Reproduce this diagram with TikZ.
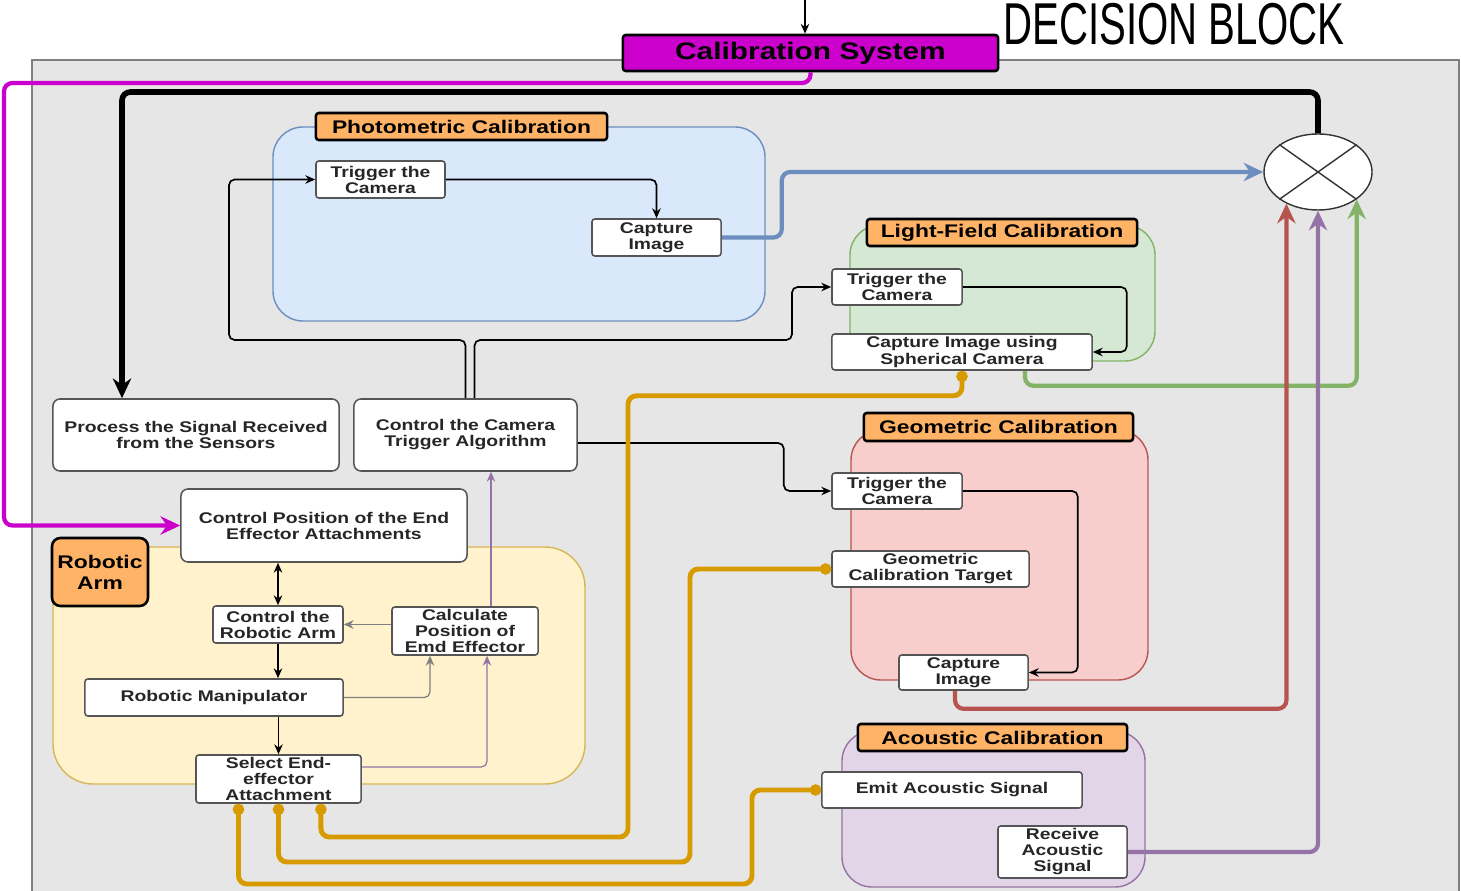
\documentclass[tikz,border=0pt]{standalone}
\usepackage{fontspec}
\setmainfont{Liberation Sans}[FakeStretch=1.25]
\newfontfamily\headfont{Liberation Sans}
\usetikzlibrary{shapes.geometric, arrows.meta}

\definecolor{bggray}{HTML}{E6E6E6}
\definecolor{framegray}{HTML}{808080}
\definecolor{boxline}{HTML}{555555}
\definecolor{txt}{HTML}{262626}
\definecolor{tagorange}{HTML}{FFB366}
\definecolor{calmag}{HTML}{CC00CC}
\definecolor{bluefill}{HTML}{DAE8FC}
\definecolor{blueline}{HTML}{6C8EBF}
\definecolor{greenfill}{HTML}{D5E8D4}
\definecolor{greenline}{HTML}{82B366}
\definecolor{redfill}{HTML}{F8CECC}
\definecolor{redline}{HTML}{B85450}
\definecolor{purplefill}{HTML}{E1D5E7}
\definecolor{purpleline}{HTML}{9673A6}
\definecolor{yellowfill}{HTML}{FFF2CC}
\definecolor{yellowline}{HTML}{D6B656}
\definecolor{gold}{HTML}{D79B00}

\tikzset{dims/.style 2 args={minimum width=#1cm, minimum height=#2cm}}
\tikzstyle{stepbox} = [rectangle, rounded corners=2pt, draw=boxline, line width=1.1pt, fill=white, text=txt, align=center, inner sep=0pt, font=\fontsize{11}{11.4}\selectfont\bfseries]
\tikzstyle{bigbox} = [stepbox, rounded corners=5pt]
\tikzstyle{grouptag} = [rectangle, rounded corners=2pt, draw=black, line width=1.8pt, fill=tagorange, align=center, inner sep=0pt, font=\fontsize{13}{15}\selectfont\bfseries]
\tikzstyle{groupbg} = [rounded corners=0.75cm, line width=1pt]
\tikzstyle{arrow} = [line width=1.2pt, -{Stealth[length=7pt, width=6pt]}, rounded corners=4pt]
\tikzstyle{softarrow} = [arrow, draw=framegray, line width=0.9pt]
\tikzstyle{feed} = [line width=3pt, -{Stealth[length=14pt, width=13pt]}, rounded corners=6pt]
\tikzstyle{goldline} = [line width=3.5pt, draw=gold, {Circle[length=8pt]}-{Circle[length=8pt]}, rounded corners=6pt]

\begin{document}
\begin{tikzpicture}[x=0.025cm, y=-0.025cm]
  \useasboundingbox (0,0) rectangle (1461,891);

  % frame
  \fill[bggray] (32,60) rectangle (1460,891);
  \draw[framegray, line width=1.4pt] (32,891) -- (32,60) -- (1459,60) -- (1459,891);

  % calibration groups
  \draw[groupbg, fill=bluefill, draw=blueline] (273,127) rectangle (765,321);
  \draw[groupbg, fill=greenfill, draw=greenline] (850,225) rectangle (1155,361);
  \draw[groupbg, fill=redfill, draw=redline] (851,430) rectangle (1148,680);
  \draw[groupbg, fill=purplefill, draw=purpleline] (842,731) rectangle (1145,887);
  \draw[groupbg, rounded corners=1cm, fill=yellowfill, draw=yellowline] (53,547) rectangle (585,784);

  \node (title) at (1174,24) [font=\headfont\fontsize{42}{42}\selectfont, inner sep=0pt] {\scalebox{0.68}[1]{DECISION BLOCK}};
  \node (calsys) at (810.5,53) [grouptag, fill=calmag, dims={9.375}{0.9}, font=\fontsize{17}{19}\selectfont\bfseries] {Calibration System};
  \coordinate (feedin) at (805,0);

  \node (decision) at (1318,172) [ellipse, draw=black!80, fill=white, line width=1pt, dims={2.7}{1.9}] {};
  \draw[black!80, line width=1pt] (decision.north west) -- (decision.south east) (decision.north east) -- (decision.south west);

  % photometric
  \node (ptag) at (461.5,126.5) [grouptag, dims={7.275}{0.675}] {Photometric Calibration};
  \node (ptrig) at (380.5,179.5) [stepbox, dims={3.225}{0.925}] {Trigger the\\Camera};
  \node (pcap) at (656.5,237.5) [stepbox, dims={3.225}{0.925}] {Capture\\Image};

  % light-field
  \node (ltag) at (1002,232.5) [grouptag, dims={6.75}{0.675}] {Light-Field Calibration};
  \node (ltrig) at (897,287) [stepbox, dims={3.25}{0.9}] {Trigger the\\Camera};
  \node (lcap) at (962,352) [stepbox, dims={6.5}{0.9}] {Capture Image using\\Spherical Camera};

  % geometric
  \node (gtag) at (998.5,427) [grouptag, dims={6.725}{0.7}] {Geometric Calibration};
  \node (gtrig) at (897,491) [stepbox, dims={3.25}{0.9}] {Trigger the\\Camera};
  \node (gtarget) at (930.5,569) [stepbox, dims={4.925}{0.9}] {Geometric\\Calibration Target};
  \node (gcap) at (963.5,672.5) [stepbox, dims={3.225}{0.875}] {Capture\\Image};

  % acoustic
  \node (atag) at (992.5,737.5) [grouptag, dims={6.725}{0.675}] {Acoustic Calibration};
  \node (emit) at (952,790) [stepbox, dims={6.5}{0.9}] {Emit Acoustic Signal};
  \node (recv) at (1062.5,852) [stepbox, dims={3.225}{1.3}] {Receive\\Acoustic\\Signal};

  % robotic arm
  \node (rtag) at (100,572) [grouptag, rounded corners=6pt, dims={2.4}{1.7}] {Robotic\\Arm};
  \node (ctrlpos) at (324,525.5) [bigbox, dims={7.15}{1.825}] {Control Position of the End\\Effector Attachments};
  \node (carm) at (278,624.5) [stepbox, dims={3.25}{0.925}] {Control the\\Robotic Arm};
  \node (calc) at (465,631) [stepbox, dims={3.65}{1.2}] {Calculate\\Position of\\Emd Effector};
  \node (manip) at (214,697.5) [stepbox, dims={6.45}{0.925}] {Robotic Manipulator};
  \node (sel) at (278.5,779) [stepbox, dims={4.125}{1.2}] {Select End-\\effector\\Attachment};

  \node (process) at (196,435) [bigbox, dims={7.15}{1.8}] {Process the Signal Received\\from the Sensors};
  \node (ctrlcam) at (465.5,435) [bigbox, dims={5.575}{1.8}] {Control the Camera\\Trigger Algorithm};

  % connectors
  \draw[arrow, line width=2pt] (feedin) -- (feedin |- calsys.north);
  \draw[feed, draw=calmag] (calsys.south) |- (4,83) |- (ctrlpos.west);
  \coordinate (sensorlane) at (122,92);
  \draw[feed, line width=4pt, draw=black] (decision.north) |- (sensorlane) -- (sensorlane |- process.north);

  \draw[arrow] (ctrlcam.north) |- (229,340) |- (ptrig.west);
  \draw[arrow] ([xshift=0.225cm]ctrlcam.north) |- (792,340) |- (ltrig.west);
  \draw[arrow] ([yshift=-0.2cm]ctrlcam.east) -- ++(206,0) |- (gtrig.west);

  \draw[arrow] (ptrig.east) -| (pcap.north);
  \draw[feed, draw=blueline] (pcap.east) -- ++(60,0) |- (decision.west);
  \draw[arrow] (ltrig.east) -- ++(164,0) |- (lcap.east);
  \draw[feed, draw=greenline] ([xshift=1.575cm]lcap.south) -- ++(0,15) -| (decision.south east);
  \draw[arrow] (gtrig.east) -- ++(115,0) |- (gcap.east);
  \draw[feed, draw=redline] ([xshift=-0.21cm]gcap.south) -- ++(0,18) -| (decision.-135);
  \draw[feed, draw=purpleline] (recv.east) -| (decision.south);

  \draw[goldline] (lcap.south) -- ++(0,25) -| (628,837) -| ([xshift=1.06cm]sel.south);
  \draw[goldline] (gtarget.west) -| (690,862) -| (sel.south);
  \draw[goldline] (emit.west) -| (752,884) -| ([xshift=-1cm]sel.south);

  \draw[arrow, {Stealth[length=7pt, width=6pt]}-{Stealth[length=7pt, width=6pt]}] (carm.north |- ctrlpos.south) -- (carm.north);
  \draw[arrow] (carm.south) -- (carm.south |- manip.north);
  \draw[arrow] (sel.north |- manip.south) -- (sel.north);
  \draw[softarrow] (carm.east -| calc.west) -- (carm.east);
  \draw[softarrow] (manip.east) -| ([xshift=-0.875cm]calc.south);
  \draw[softarrow, draw=purpleline] ([yshift=0.3cm]sel.east) -| ([xshift=0.55cm]calc.south);
  \coordinate (calcup) at ([xshift=0.65cm]calc.north);
  \draw[softarrow, draw=purpleline] (calcup) -- (calcup |- ctrlcam.south);

\end{tikzpicture}
\end{document}
